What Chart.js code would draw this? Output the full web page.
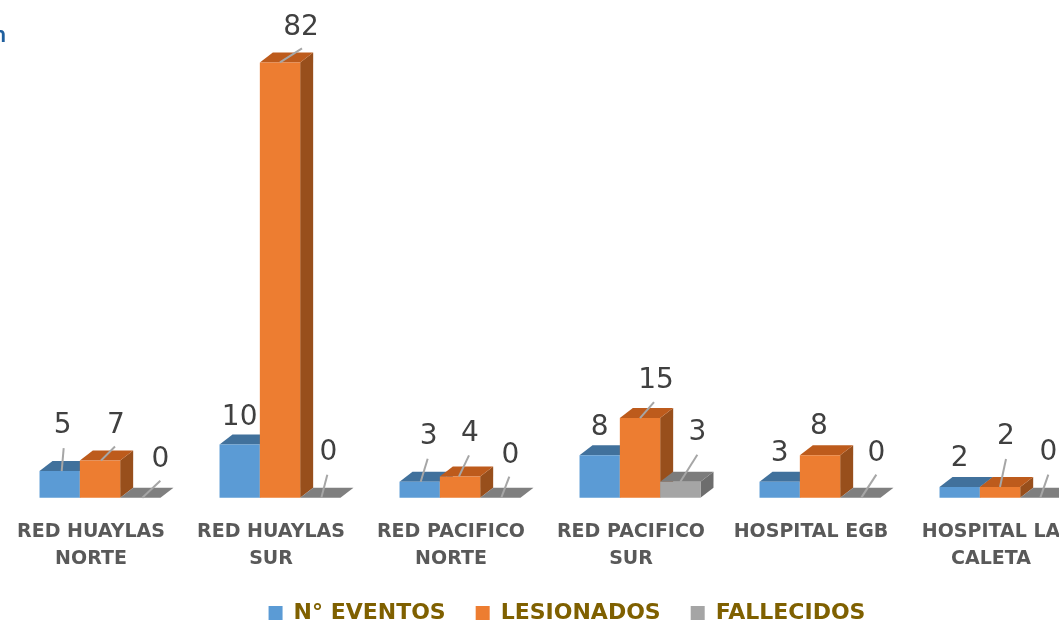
<!DOCTYPE html>
<html>
<head>
<meta charset="utf-8">
<script src="https://cdn.jsdelivr.net/npm/chart.js@4"></script>
<style>
    html, body { margin: 0; padding: 0; background: #fff; overflow: hidden; width: 1059px; height: 622px; }
    #chart { position: absolute; left: 0; top: 0; filter: blur(0.5px); }
    #titleScrap { position: absolute; left: -7px; top: 19px; font: bold 23px 'Lato', sans-serif; color: #1f5f9e; filter: blur(0.5px); }
</style>
</head>
<body>
<div id="titleScrap">n</div>
<canvas id="chart" width="1128" height="648"></canvas>
<script>
const categories = [
    ['RED HUAYLAS', 'NORTE'],
    ['RED HUAYLAS', 'SUR'],
    ['RED PACIFICO', 'NORTE'],
    ['RED PACIFICO', 'SUR'],
    'HOSPITAL EGB',
    ['HOSPITAL LA', 'CALETA']
];
const eventos = [5, 10, 3, 8, 3, 2];
const lesionados = [7, 82, 4, 15, 8, 2];
const fallecidos = [0, 0, 0, 3, 0, 0];

// label placement per bar: [label dx, label dy, leader start dx, leader end dx, leader end dy]
const eventosLabels = [[3, -45, 2, 4, -23], [0, -27], [9, -45, 1, 8, -23], [0, -27], [0, -28], [0, -28]];
const lesionadosLabels = [[16, -35, 1, 15, -14], [21, -35, 0, 22, -14], [10, -43, -1, 9, -21], [16, -37, 0, 14, -16], [-1, -28], [6, -50, 0, 6, -28]];
const fallecidosLabels = [[20, -38, 2, 20, -17], [8, -45, 1, 7, -23], [10, -42, 1, 9, -21], [17, -49, 0, 17, -27], [16, -44, 1, 16, -23], [8, -45, 0, 8, -23]];

const DEPTH_X = 13;
const DEPTH_Y = 10;
const LEGEND_SHIFT_X = 17;
const LEGEND_SHIFT_Y = -14;

function poly(ctx, pts, fill) {
    ctx.beginPath();
    pts.forEach((p, i) => i ? ctx.lineTo(p[0], p[1]) : ctx.moveTo(p[0], p[1]));
    ctx.closePath();
    ctx.fillStyle = fill;
    ctx.fill();
}

// Columns have to paint left to right so each one hides the side of its neighbour,
// so the faces and fronts are drawn here and the default pass is cancelled
const columns3d = {
    id: 'columns3d',
    afterLayout(chart) {
        chart.legend.top += LEGEND_SHIFT_Y;
        chart.legend.left += LEGEND_SHIFT_X;
        chart.legend.right += LEGEND_SHIFT_X;
    },
    beforeDatasetsDraw(chart) {
        const ctx = chart.ctx;
        chart.data.datasets.forEach((ds, d) => {
            const meta = chart.getDatasetMeta(d);
            ctx.save();
            meta.data.forEach((bar, i) => {
                const half = bar.width / 2;
                const l = bar.x - half, r = bar.x + half;
                const t = bar.y, b = bar.base;
                const flat = ds.data[i] === 0;
                if (!flat) {
                    poly(ctx, [[r, t], [r + DEPTH_X, t - DEPTH_Y], [r + DEPTH_X, b - DEPTH_Y], [r, b]], ds.sideColor);
                }
                poly(ctx, [[l, t], [r, t], [r + DEPTH_X, t - DEPTH_Y], [l + DEPTH_X, t - DEPTH_Y]], flat ? ds.flatColor : ds.topColor);
            });
            ctx.restore();
            meta.controller.draw();
        });
        return false;
    }
};

// Value labels with their thin leader lines
const valueLabels = {
    id: 'valueLabels',
    afterDraw(chart) {
        const ctx = chart.ctx;
        ctx.save();
        ctx.textAlign = 'center';
        ctx.textBaseline = 'middle';
        ctx.font = "28px 'DejaVu Sans', sans-serif";
        chart.data.datasets.forEach((ds, d) => {
            chart.getDatasetMeta(d).data.forEach((bar, i) => {
                const p = ds.labelPlace[i];
                if (p.length > 2) {
                    ctx.strokeStyle = '#a6a6a6';
                    ctx.lineWidth = 2;
                    ctx.beginPath();
                    ctx.moveTo(bar.x + p[2], bar.y);
                    ctx.lineTo(bar.x + p[3], bar.y + p[4]);
                    ctx.stroke();
                }
                ctx.fillStyle = '#404040';
                ctx.fillText(ds.data[i], bar.x + p[0], bar.y + p[1]);
            });
        });
        ctx.restore();
    }
};

new Chart(document.getElementById('chart').getContext('2d'), {
    type: 'bar',
    plugins: [columns3d, valueLabels],
    data: {
        labels: categories,
        datasets: [
            { label: 'N° EVENTOS', data: eventos, backgroundColor: '#5b9bd5', topColor: '#41719c', sideColor: '#41719c', flatColor: '#41719c', labelPlace: eventosLabels },
            { label: 'LESIONADOS', data: lesionados, backgroundColor: '#ed7d31', topColor: '#bd5b1c', sideColor: '#984f1c', flatColor: '#bd5b1c', labelPlace: lesionadosLabels },
            { label: 'FALLECIDOS', data: fallecidos, backgroundColor: '#a5a5a5', topColor: '#7c7c7c', sideColor: '#6d6d6d', flatColor: '#7f7f7f', labelPlace: fallecidosLabels }
        ]
    },
    options: {
        responsive: false,
        animation: false,
        layout: { padding: { left: 10, right: 38, top: 20, bottom: 0 } },
        categoryPercentage: 0.672,
        barPercentage: 1,
        plugins: {
            tooltip: { enabled: false },
            legend: {
                position: 'bottom',
                labels: {
                    boxWidth: 14,
                    boxHeight: 14,
                    padding: 30,
                    color: '#7f6000',
                    font: { family: "'DejaVu Sans', sans-serif", size: 22, weight: 'bold' }
                }
            }
        },
        scales: {
            x: {
                grid: { display: false },
                border: { display: false },
                ticks: {
                    autoSkip: false,
                    maxRotation: 0,
                    labelOffset: -9,
                    padding: 13,
                    color: '#595959',
                    font: { family: "'DejaVu Sans', sans-serif", size: 19, weight: 'bold', lineHeight: 1.43 }
                }
            },
            y: { display: false, min: 0, max: 90 }
        }
    }
});
</script>
</body>
</html>
